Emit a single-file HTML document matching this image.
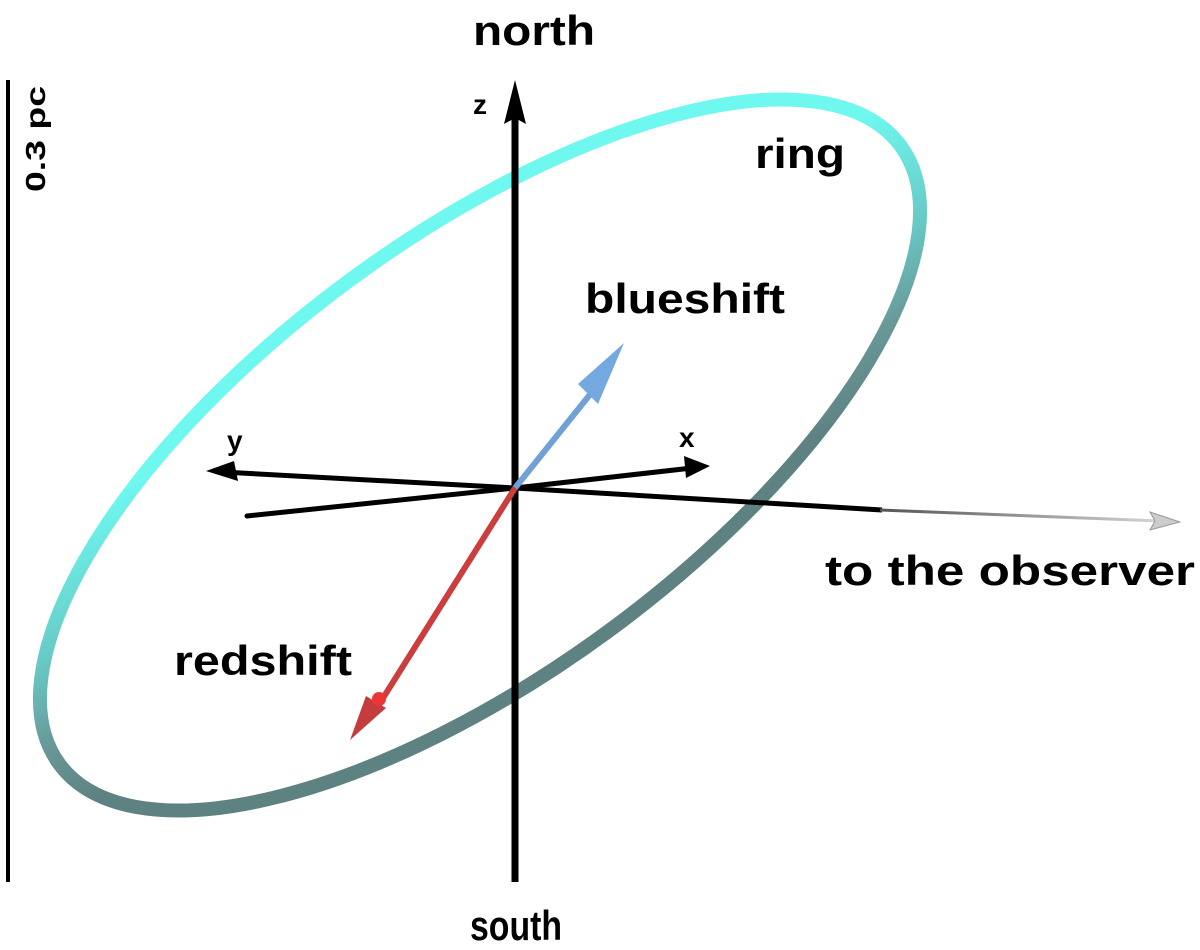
<!DOCTYPE html>
<html><head><meta charset="utf-8"><style>
html,body{margin:0;padding:0;background:#fff;}
svg{display:block;}
text{font-family:"Liberation Sans",sans-serif;fill:#000;font-weight:bold;}
</style></head><body>
<svg width="1200" height="950" viewBox="0 0 1200 950" xmlns="http://www.w3.org/2000/svg">
<defs>
<linearGradient id="rg" x1="220" y1="440" x2="340" y2="680" gradientUnits="userSpaceOnUse" gradientTransform="rotate(36.3 480 455)">
<stop offset="0" stop-color="#6ef8f0"/>
<stop offset="0.45" stop-color="#68c8c4"/>
<stop offset="0.75" stop-color="#689696"/>
<stop offset="1" stop-color="#5e8182"/>
</linearGradient>
<linearGradient id="og" x1="880" y1="0" x2="1180" y2="0" gradientUnits="userSpaceOnUse">
<stop offset="0" stop-color="#555"/><stop offset="1" stop-color="#ddd"/>
</linearGradient>
</defs>
<line x1="8" y1="80" x2="8" y2="882" stroke="#000" stroke-width="4"/>
<text transform="translate(45,192) rotate(-90)" font-size="28" textLength="106" lengthAdjust="spacingAndGlyphs">0.3 pc</text>
<ellipse cx="480" cy="455" rx="522" ry="218" transform="rotate(-36.3 480 455)" fill="none" stroke="url(#rg)" stroke-width="14"/>
<line x1="515" y1="115" x2="515" y2="882" stroke="#000" stroke-width="7"/>
<polygon points="515,80 504,124 515,118 526,124" fill="#000"/>
<line x1="247" y1="516" x2="515" y2="488" stroke="#000" stroke-width="5" stroke-linecap="round"/>
<line x1="515" y1="488" x2="222" y2="472" stroke="#000" stroke-width="5"/>
<polygon points="206,471 234,461 238,481" fill="#000"/>
<line x1="515" y1="488" x2="692" y2="468" stroke="#000" stroke-width="5"/>
<polygon points="710,466 684,456 686,478" fill="#000"/>
<line x1="515" y1="488" x2="882" y2="510" stroke="#000" stroke-width="5"/>
<line x1="880" y1="510" x2="1160" y2="521" stroke="url(#og)" stroke-width="3"/>
<polygon points="1180,522 1150,512 1155,521 1150,530" fill="#ccc" stroke="#999" stroke-width="1"/>
<line x1="515" y1="488" x2="592" y2="392" stroke="#6fa0d6" stroke-width="6"/>
<polygon points="624,343 578,384 598,404" fill="#74a8e0"/>
<line x1="515" y1="488" x2="378" y2="706" stroke="#cc3d3d" stroke-width="6"/>
<polygon points="350,740 366,696 386,708" fill="#c43c3c"/>
<circle cx="379" cy="699" r="7" fill="#ee3535"/>
<text x="473" y="45" font-size="42" textLength="122" lengthAdjust="spacingAndGlyphs">north</text>
<text x="470" y="940" font-size="42" textLength="92" lengthAdjust="spacingAndGlyphs">south</text>
<text x="473" y="114" font-size="28">z</text>
<text x="227" y="450" font-size="28">y</text>
<text x="679" y="447" font-size="28">x</text>
<text x="755" y="168" font-size="42" textLength="90" lengthAdjust="spacingAndGlyphs">ring</text>
<text x="585" y="313" font-size="42" textLength="200" lengthAdjust="spacingAndGlyphs">blueshift</text>
<text x="174" y="675" font-size="42" textLength="178" lengthAdjust="spacingAndGlyphs">redshift</text>
<text x="825" y="585" font-size="42" textLength="370" lengthAdjust="spacingAndGlyphs">to the observer</text>
</svg>
</body></html>
